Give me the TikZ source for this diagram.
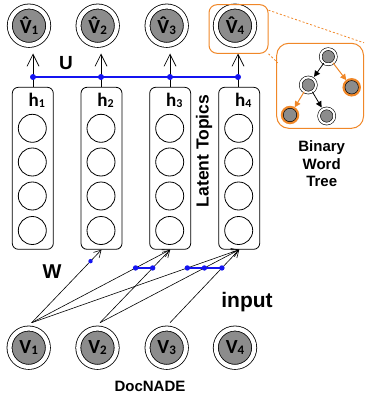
\documentclass[tikz,border=0pt]{standalone}
\usepackage{fontspec}
\setmainfont{Liberation Sans}
\newfontfamily\calfont{Carlito}
\usetikzlibrary{arrows.meta,calc}

\definecolor{nodegray}{RGB}{140,140,140}
\definecolor{zoomorange}{RGB}{240,135,40}
\definecolor{linkblue}{RGB}{20,20,240}

% word symbols V_i and hatted V_i
\newcommand{\wsym}[1]{{\calfont\bfseries\fontsize{20}{20}\selectfont V\raisebox{-1.5pt}{\fontsize{13}{13}\selectfont #1}}}
\newcommand{\whsym}[1]{{\calfont\bfseries\fontsize{20}{20}\selectfont
  \accent"02C6 V\raisebox{-1.5pt}{\fontsize{13}{13}\selectfont #1}}}
\newcommand{\hsym}[1]{{\calfont\bfseries\fontsize{19}{19}\selectfont h\raisebox{-1.5pt}{\fontsize{12}{12}\selectfont #1}}}

\tikzset{
  wordnode/.style={circle, draw, double=white, double distance=4.2pt,
    line width=0.8pt, fill=nodegray, minimum size=38.4pt, inner sep=0pt},
  hbox/.style={draw, rounded corners=6pt, line width=0.8pt,
    minimum width=41pt, minimum height=162pt, inner sep=0pt},
  unit/.style={circle, draw, line width=0.8pt, minimum size=28pt, inner sep=0pt},
  hlabel/.style={inner sep=0pt},
  uparrow/.style={line width=0.7pt, -{Straight Barb[length=12pt,width=12pt]}},
  inarrow/.style={line width=0.6pt, -{Straight Barb[length=7pt,width=8pt]}},
  bluelink/.style={draw=linkblue, line width=1.3pt},
  bigdot/.style={fill=linkblue},
  treenode/.style={circle, draw, double=white, double distance=2.1pt,
    line width=0.6pt, fill=nodegray, minimum size=15.3pt, inner sep=0pt},
  treeleaf/.style={circle, draw, line width=0.5pt, fill=nodegray,
    minimum size=13.4pt, inner sep=0pt,
    preaction={draw=zoomorange, line width=5pt}},
  treeblack/.style={line width=0.8pt, -{Triangle[length=6pt,width=6pt]}, shorten >=2pt},
  treeorange/.style={draw=zoomorange, line width=1pt,
    -{Triangle[length=6pt,width=6pt]}, shorten >=2pt},
  zoomframe/.style={draw=zoomorange, line width=1pt},
  zoomlink/.style={draw=zoomorange, line width=0.8pt, dash pattern=on 2pt off 2pt},
  lbl/.style={font=\bfseries, inner sep=0pt}
}

\begin{document}
\begin{tikzpicture}[x=1pt,y=-1pt]
\useasboundingbox (0,0) rectangle (365,396);

% reconstructed outputs
\node[wordnode] (o1) at (29,25.7) {\whsym{1}};
\node[wordnode] (o2) at (97.7,25.7) {\whsym{2}};
\node[wordnode] (o3) at (166.7,25.7) {\whsym{3}};
\node[wordnode] (o4) at (235,25.7) {\whsym{4}};

% inputs
\node[wordnode] (v1) at (28.7,347.7) {\wsym{1}};
\node[wordnode] (v2) at (97.5,347.7) {\wsym{2}};
\node[wordnode] (v3) at (166.7,347.7) {\wsym{3}};
\node[wordnode] (v4) at (235,347.7) {\wsym{4}};

% hidden layers
\foreach \i/\x in {1/32.8, 2/101.5, 3/170.2, 4/239.2}{
  \node[hbox] (b\i) at (\x,168.3) {};
  \node[hlabel] (hl\i) at (\x+4,100.5) {\hsym{\i}};
  \foreach \j/\y in {1/128.3, 2/162, 3/196, 4/230.5}{
    \node[unit] (c\i\j) at (\x-0.5,\y) {};
  }
}

% U connections
\coordinate (u1) at (33,77);
\coordinate (u2) at (101,77);
\coordinate (u3) at (170,77);
\coordinate (u4) at (238,77);
\coordinate (t1) at (33,53.5);
\coordinate (t2) at (101,53.5);
\coordinate (t3) at (170,53.5);
\coordinate (t4) at (238,53.5);
\foreach \i in {1,...,4}{
  \draw[line width=0.7pt] (u\i |- b\i.north) -- (u\i);
  \draw[uparrow] (u\i) -- (t\i);
}
\draw[bluelink] (u1) -- (u4);
\foreach \i in {1,...,4}{ \fill[bigdot] (u\i) circle (3pt); }

% W connections
\coordinate (i1) at (31.7,322.7);
\coordinate (i2) at (100,322.7);
\coordinate (i3) at (170,322.7);
\draw[inarrow] (i1) -- (b2.south);
\draw[inarrow] (i1) -- (b3.south);
\draw[inarrow] (i1) -- (b4.south);
\draw[inarrow] (i2) -- (b3.south);
\draw[inarrow] (i2) -- (b4.south);
\draw[inarrow] (i3) -- (b4.south);
\path (i1) -- (b2.south) coordinate[pos=0.843] (d12);
\path (i1) -- (b3.south) coordinate[pos=0.75] (d13);
\path (i2) -- (b3.south) coordinate[pos=0.75] (d23);
\path (i1) -- (b4.south) coordinate[pos=0.75] (d14);
\path (i2) -- (b4.south) coordinate[pos=0.75] (d24);
\path (i3) -- (b4.south) coordinate[pos=0.75] (d34);
\draw[bluelink] (d13) -- (d23);
\draw[bluelink] (d14) -- (d34);
\fill[bigdot] (d12) circle (2.2pt);
\foreach \d in {d13,d23,d14,d24,d34}{ \fill[bigdot] (\d) circle (2.7pt); }

% labels
\node[lbl, font=\bfseries\fontsize{19}{19}\selectfont] (ulab) at (66,63) {U};
\node[lbl, font=\bfseries\fontsize{20}{20}\selectfont] (wlab) at (52,272) {W};
\node[lbl, font=\bfseries\fontsize{21}{21}\selectfont] (inlab) at (247,302) {input};
\node[lbl, font=\bfseries\fontsize{15}{15}\selectfont] (doclab) at (150,386) {DocNADE};
\node[lbl, font=\bfseries\fontsize{17.5}{17.5}\selectfont, rotate=90] (ltlab) at (204,151) {Latent Topics};

% zoom onto the binary word tree
\node[zoomframe, rounded corners=8pt, minimum width=59pt, minimum height=48.6pt, inner sep=0pt] (zf) at (238.5,29) {};
\node[zoomframe, rounded corners=12pt, minimum width=86.8pt, minimum height=85pt, inner sep=0pt] (tf) at (320.1,85.8) {};
\draw[zoomlink] (zf.north east) ++(0,6) coordinate (za) -- (tf.north east);
\draw[zoomlink] (zf.south east) -- ($(tf.north west)+(1.5,20)$) coordinate (zb);

\node[treenode] (r) at (328.3,56.7) {};
\node[treenode] (lc) at (308.3,85) {};
\node[treeleaf] (rc) at (351.7,87.3) {};
\node[treeleaf] (ll) at (290,115) {};
\node[treenode] (lr) at (326.7,116) {};
\draw[treeblack] (r) -- (lc);
\draw[treeorange] (r) -- (rc);
\draw[treeorange] (lc) -- (ll);
\draw[treeblack] (lc) -- (lr);

\node[lbl, font=\bfseries\fontsize{15}{17.5}\selectfont, align=center] (bwt) at (321.7,164) {Binary\\Word\\Tree};
\end{tikzpicture}
\end{document}
